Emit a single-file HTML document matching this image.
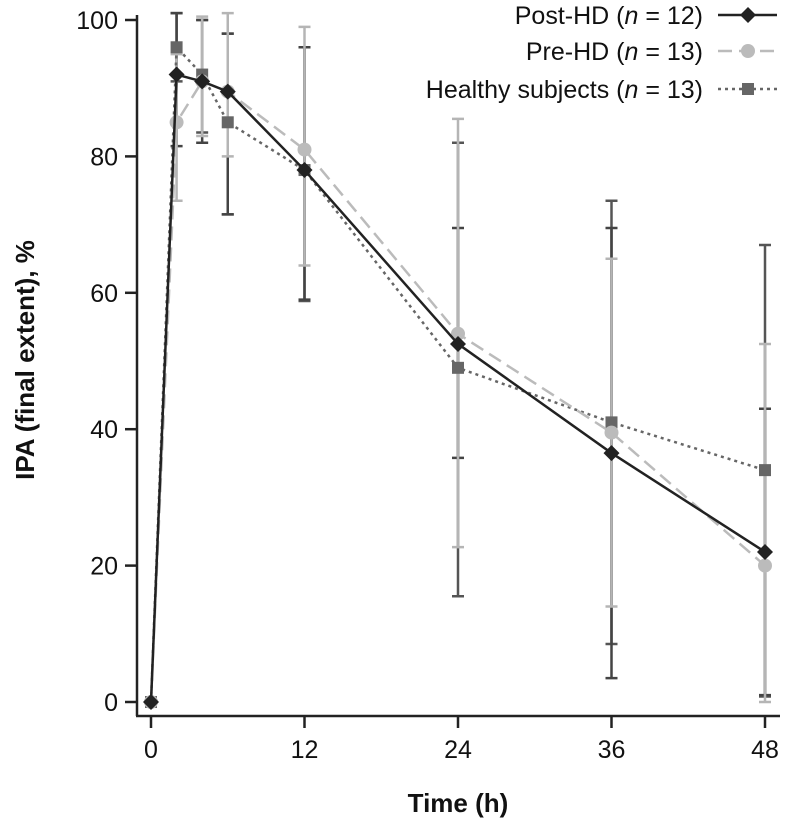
<!DOCTYPE html>
<html><head><meta charset="utf-8"><style>
body{margin:0;background:#fff;}
svg text{font-family:"Liberation Sans",sans-serif;}
</style></head><body>
<svg id="chart" width="788" height="821" xmlns="http://www.w3.org/2000/svg">
<g id="axes"></g><g id="errs"></g><g id="marks"></g><g id="legend"></g>
</svg>
<script>
const times=[0,2,4,6,12,24,36,48];
const xTicks=[0,12,24,36,48];
const yTicks=[0,20,40,60,80,100];
const postVals=[0,92,91,89.5,78,52.5,36.5,22];
const postHi=[0,101,100,98,96,69.5,69.5,43];
const postLo=[0,81.5,82,71.5,59,35.8,3.5,1];
const preVals=[0,85,91,89.5,81,54,39.5,20];
const preHi=[0,95,100.5,101,99,85.5,65,52.5];
const preLo=[0,73.5,83,80,64,22.7,14,0];
const hsVals=[0,96,92,85,78,49,41,34];
const hsHi=[0,101,100,98,96,82,73.5,67];
const hsLo=[0,91,83.5,71.5,58.8,15.5,8.5,0.8];

const NS="http://www.w3.org/2000/svg";
const X=t=>151+t*(765-151)/48;
const Y=v=>702-v*(702-20)/100;
function mk(tag,attrs,parent){const e=document.createElementNS(NS,tag);for(const k in attrs)e.setAttribute(k,attrs[k]);parent.appendChild(e);return e;}
const axes=document.getElementById('axes'),errs=document.getElementById('errs'),marks=document.getElementById('marks'),legend=document.getElementById('legend');

let yl=mk('line',{x1:137,y1:15,x2:137,y2:716,stroke:'#222','stroke-width':2.5},axes);


let xl=mk('line',{x1:136,y1:716,x2:780,y2:716,stroke:'#222','stroke-width':2.5},axes);


yTicks.forEach(v=>{
 mk('line',{x1:125,y1:Y(v),x2:137,y2:Y(v),stroke:'#222','stroke-width':2.5},axes);
 const t=mk('text',{x:118,y:Y(v)+9,'text-anchor':'end','font-size':25,fill:'#111'},axes);t.textContent=v;
 
 
});
xTicks.forEach(v=>{
 mk('line',{x1:X(v),y1:716,x2:X(v),y2:728,stroke:'#222','stroke-width':2.5},axes);
 const t=mk('text',{x:X(v),y:758,'text-anchor':'middle','font-size':25,fill:'#111'},axes);t.textContent=v;
 
 
});
let xt=mk('text',{x:458,y:812,'text-anchor':'middle','font-size':26,'font-weight':'bold',fill:'#111'},axes);xt.textContent='Time (h)';


let yt=mk('text',{x:0,y:0,'text-anchor':'middle','font-size':26,'font-weight':'bold',fill:'#111',transform:'translate(34,360) rotate(-90)'},axes);yt.textContent='IPA (final extent), %';



const series=[
 {name:'healthy',vals:hsVals,hi:hsHi,lo:hsLo,col:'#666',ecol:'#555',dash:'3,4',marker:'square'},
 {name:'post-hd',vals:postVals,hi:postHi,lo:postLo,col:'#222',ecol:'#444',dash:'',marker:'diamond'},
 {name:'pre-hd',vals:preVals,hi:preHi,lo:preLo,col:'#bbb',ecol:'#b5b5b5',dash:'14,7',marker:'circle'}
];
function marker(type,x,y,col,g){
 if(type==='square') return mk('rect',{x:x-6,y:y-6,width:12,height:12,fill:col},g);
 if(type==='circle') return mk('circle',{cx:x,cy:y,r:7,fill:col},g);
 return mk('polygon',{points:`${x},${y-8} ${x+8},${y} ${x},${y+8} ${x-8},${y}`,fill:col},g);
}
series.forEach(s=>{
 const g=mk('g',{},errs);
 
 
 times.forEach((t,i)=>{
  if(i===0)return;
  const x=X(t);
  const e=mk('path',{d:`M${x},${Y(s.hi[i])}V${Y(s.lo[i])}M${x-6},${Y(s.hi[i])}h12M${x-6},${Y(s.lo[i])}h12`,stroke:s.ecol,'stroke-width':2.5,fill:'none'},g);
  
  
 });
});
[series[0],series[2],series[1]].forEach(s=>{
 const g=mk('g',{},marks);
 
 
 const pts=times.map((t,i)=>X(t)+','+Y(s.vals[i])).join(' ');
 const l=mk('polyline',{points:pts,fill:'none',stroke:s.col,'stroke-width':2.5,'stroke-dasharray':s.dash},g);
 
 
 times.forEach((t,i)=>{
  const m=marker(s.marker,X(t),Y(s.vals[i]),s.col,g);
  
  
 });
});
const leg=[
 {label:'Post-HD (',n:'12',y:15,col:'#222',dash:'',marker:'diamond'},
 {label:'Pre-HD (',n:'13',y:51,col:'#bbb',dash:'14,7',marker:'circle'},
 {label:'Healthy subjects (',n:'13',y:89,col:'#666',dash:'3,4',marker:'square'}
];
leg.forEach(r=>{
 const g=mk('g',{},legend);
 
 
 const t=mk('text',{x:703,y:r.y+9,'text-anchor':'end','font-size':25,fill:'#111'},g);
 t.innerHTML=r.label+'<tspan font-style="italic">n</tspan> = '+r.n+')';
 mk('line',{x1:718,y1:r.y,x2:777,y2:r.y,stroke:r.col,'stroke-width':2.5,'stroke-dasharray':r.dash},g);
 marker(r.marker,748,r.y,r.col,g);
});
</script>
</body></html>
